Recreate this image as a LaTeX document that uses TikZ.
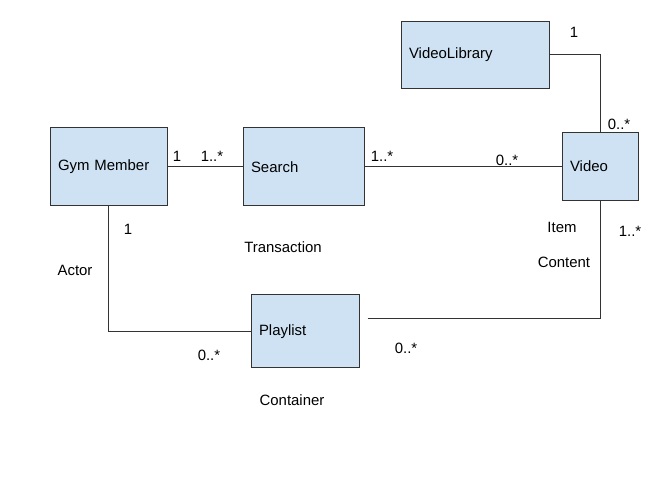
\documentclass[tikz,border=0pt]{standalone}
\usepackage{fontspec}
\setmainfont{Liberation Sans}
\usepackage{tikz}
\usetikzlibrary{positioning}
\definecolor{boxblue}{RGB}{207,226,243}
\definecolor{linegray}{RGB}{51,51,51}

\tikzset{
  classbox/.style 2 args = {draw = linegray, fill = boxblue, shape = rectangle, line width = 0.75pt,
    text width = #1, minimum height = #2, align = left, inner xsep = 6pt, inner ysep = 0pt},
  mult/.style = {inner sep = 0pt},
  assoc/.style = {draw = linegray, line width = 0.75pt}
}

\begin{document}
\begin{tikzpicture}[x = 0.75pt, y = -0.75pt, font = \fontsize{11.2}{13}\selectfont]
\useasboundingbox (0,0) rectangle (671,491);
\node[classbox = {75.75pt}{58.5pt}] (gym) at (108.5,167) {Gym Member};
\node[classbox = {78.75pt}{58.5pt}] (search) at (303.5,167) {Search};
\node[classbox = {99pt}{50.25pt}] (vlib) at (475,55) {VideoLibrary};
\node[classbox = {45pt}{51pt}] (video) at (600,166.5) {Video};
\node[classbox = {69pt}{54.75pt}] (playlist) at (305,331.5) {Playlist};
\coordinate (plout) at ([xshift = 6pt, yshift = 10pt] playlist.east);

\draw[assoc] (gym) -- (search);
\draw[assoc] (search.east) -- (search.east -| video.west);
\draw[assoc] (vlib.east) -| (video.north);
\draw[assoc] (gym.south) |- (playlist.west);
\draw[assoc] (plout) -| (video.south);

% multiplicities
\begin{scope}[nodes = {mult}]
\node (m1) at (177,156) {1};
\node (m2) at (212,156) {1..*};
\node (m3) at (382,156) {1..*};
\node (m4) at (507,160) {0..*};
\node (m5) at (574,32) {1};
\node (m6) at (619,124) {0..*};
\node (m7) at (630,231) {1..*};
\node (m8) at (128,229) {1};
\node (m9) at (209,355) {0..*};
\node (m10) at (406,348) {0..*};
\end{scope}

% roles
\node (actor) at (75,270) {Actor};
\node (transaction) at (283,247) {Transaction};
\node (item) at (562,227) {Item};
\node (content) at (564,262) {Content};
\node (container) at (292,400) {Container};
\end{tikzpicture}
\end{document}
